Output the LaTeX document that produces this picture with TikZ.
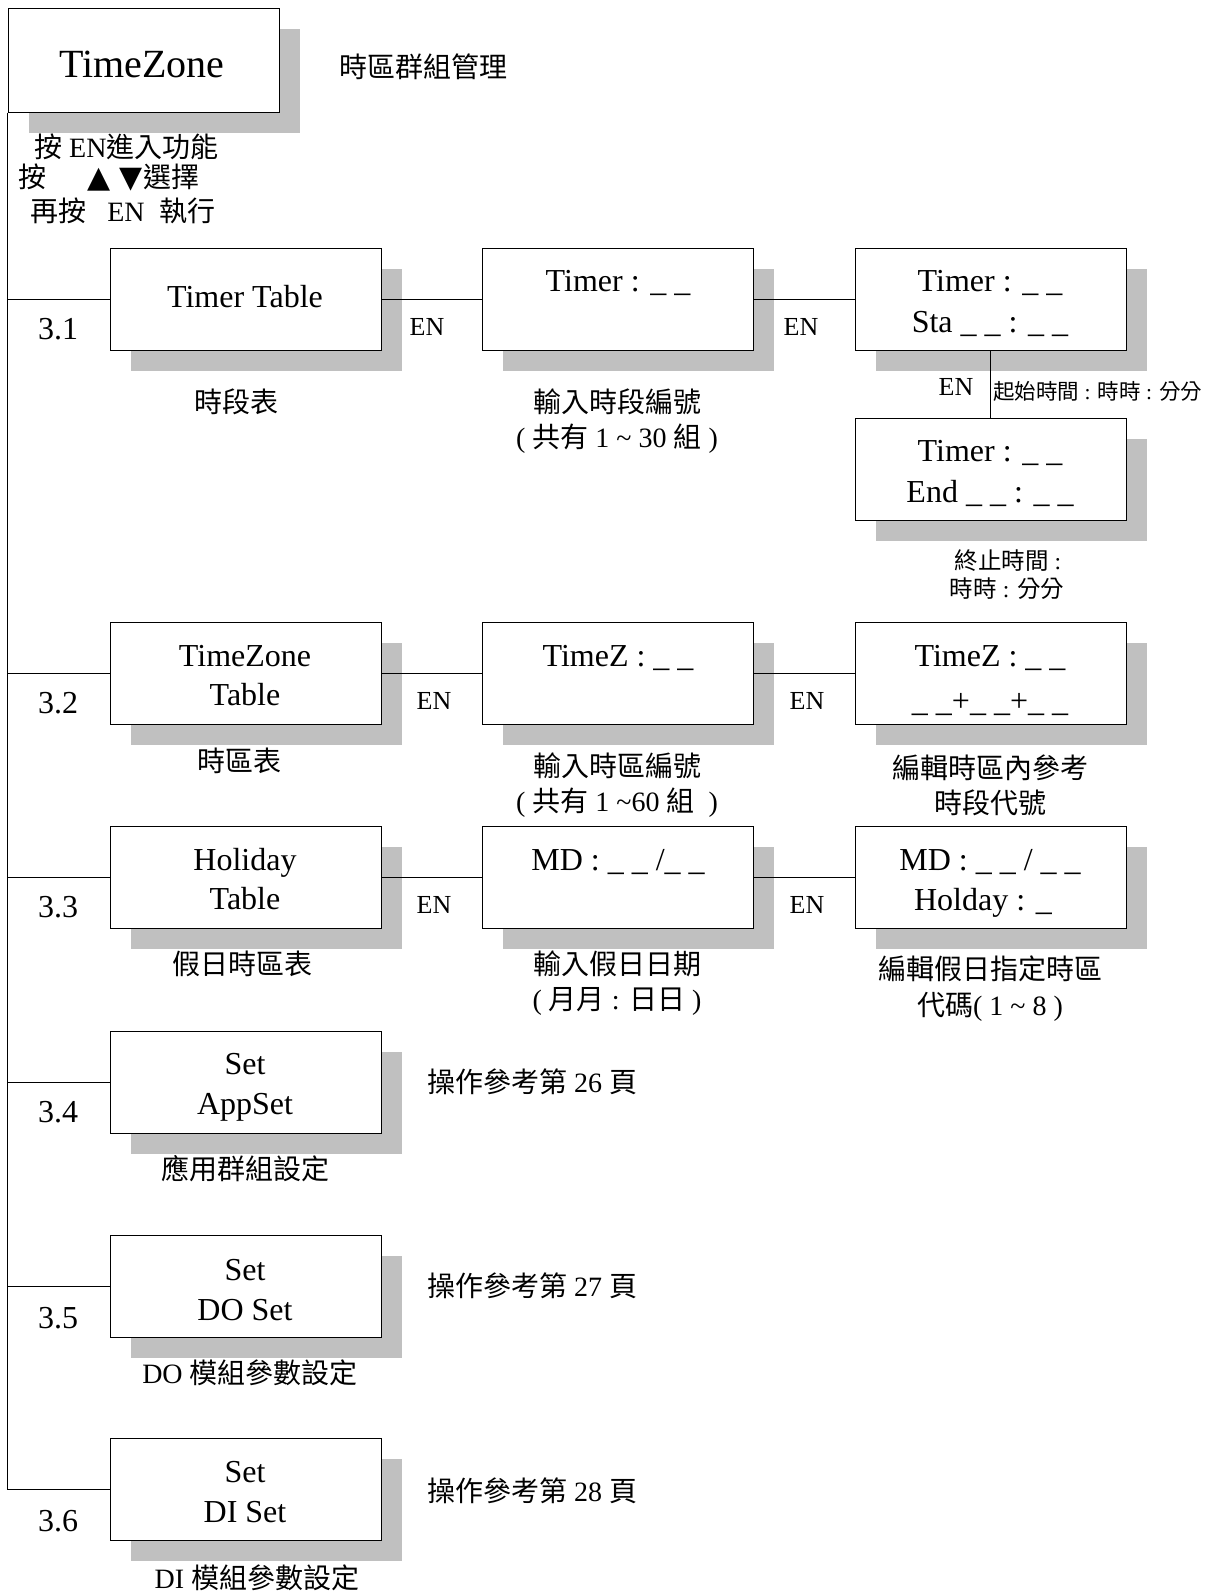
\documentclass[tikz,border=0pt]{standalone}
\usepackage{fontspec}
\setmainfont{Liberation Serif}
\newfontfamily\cjkfont{Noto Sans CJK TC}
\newfontfamily\symfont{DejaVu Sans}
\newcommand{\ZH}[1]{{\cjkfont #1}}
\usetikzlibrary{shadows}
\definecolor{shadowgray}{RGB}{192,192,192}
\begin{document}
\begin{tikzpicture}[x=1pt,y=-1pt,
  box/.style={draw, line width=1pt, fill=white, minimum width=271pt, minimum height=102pt, inner sep=0pt,
    general shadow={fill=shadowgray, shadow xshift=20.5pt, shadow yshift=-21pt}},
  ln/.style={line width=0.9pt},
  bt/.style={font=\fontsize{32}{36}\selectfont, inner sep=0pt, text height=22pt, text depth=0pt},
  ttl/.style={font=\fontsize{40}{44}\selectfont, inner sep=0pt, text height=27pt, text depth=0pt},
  en/.style={font=\fontsize{26}{30}\selectfont, inner sep=0pt, text height=18pt, text depth=0pt},
  lb/.style={font=\fontsize{28}{32}\selectfont, inner sep=0pt, text height=20pt, text depth=0pt},
  sm/.style={font=\fontsize{21.5}{26}\selectfont, inner sep=0pt, text height=16pt, text depth=0pt},
  smb/.style={font=\fontsize{23.5}{27}\selectfont, inner sep=0pt, text height=17pt, text depth=0pt},
  tri/.style={font=\symfont\fontsize{30}{34}\selectfont, inner sep=0pt, text height=20pt, text depth=0pt}]
\useasboundingbox (0,0) rectangle (1214,1591);
% main box
\node[box, minimum height=104pt] (tz) at (143.5,60) {};
\node[ttl] (tzt) at (142,64) {TimeZone};
\node[lb] (tzl) at (423,67) {\ZH{時區群組管理}};
% header instructions
\node[lb, anchor=west] (h1) at (34,147) {\ZH{按} EN\ZH{進入功能}};
\node[lb, anchor=west] (h2a) at (18,177) {\ZH{按}};
\node[tri] (h2b) at (99,177) {▲};
\node[tri] (h2c) at (131,177) {▼};
\node[lb, anchor=west] (h2d) at (143,177) {\ZH{選擇}};
\node[lb, anchor=west] (h3a) at (30,211) {\ZH{再按}};
\node[lb] (h3b) at (126,211) {EN};
\node[lb, anchor=west] (h3c) at (159,211) {\ZH{執行}};
% boxes
\node[box] (b31) at (245.5,299) {};
\node[box] (m31) at (618,299) {};
\node[box] (r31) at (990.5,299) {};
\node[box] (r31b) at (990.5,469) {};
\node[box] (b32) at (245.5,673) {};
\node[box] (m32) at (618,673) {};
\node[box] (r32) at (990.5,673) {};
\node[box] (b33) at (245.5,877) {};
\node[box] (m33) at (618,877) {};
\node[box] (r33) at (990.5,877) {};
\node[box] (b34) at (245.5,1082) {};
\node[box] (b35) at (245.5,1286) {};
\node[box] (b36) at (245.5,1489) {};
% trunk and branches
\draw[ln] (tz.south west) |- (b36.west);
\foreach \n in {b31,b32,b33,b34,b35}{\draw[ln] (tz.south west |- \n.west) -- (\n.west);}
\draw[ln] (b31.east) -- (m31.west);
\draw[ln] (m31.east) -- (r31.west);
\draw[ln] (r31.south) -- (r31b.north);
\draw[ln] (b32.east) -- (m32.west);
\draw[ln] (m32.east) -- (r32.west);
\draw[ln] (b33.east) -- (m33.west);
\draw[ln] (m33.east) -- (r33.west);
% row 3.1
\node[bt] (n31) at (58,328) {3.1};
\node[bt] (b31t) at (245,296) {Timer Table};
\node[en] (e31a) at (427,326) {EN};
\node[lb] (l31) at (236,402) {\ZH{時段表}};
\node[bt] (m31t) at (618,280) {Timer : \_ \_};
\node[lb] (l31m1) at (617,402) {\ZH{輸入時段編號}};
\node[lb] (l31m2) at (617,437) {( \ZH{共有} 1 \textasciitilde{} 30 \ZH{組} )};
\node[en] (e31b) at (801,326) {EN};
\node[bt] (r31t1) at (990,280) {Timer : \_ \_};
\node[bt] (r31t2) at (990,321) {Sta \_ \_ : \_ \_};
\node[en] (e31c) at (956,386) {EN};
\node[sm, anchor=west] (l31s) at (993,391) {\ZH{起始時間} : \ZH{時時} : \ZH{分分}};
\node[bt] (r31bt1) at (990,450) {Timer : \_ \_};
\node[bt] (r31bt2) at (990,491) {End \_ \_ : \_ \_};
\node[smb] (l31e1) at (1008,561) {\ZH{終止時間} :};
\node[smb] (l31e2) at (1007,589) {\ZH{時時} : \ZH{分分}};
% row 3.2
\node[bt] (n32) at (58,702) {3.2};
\node[bt] (b32t1) at (245,655) {TimeZone};
\node[bt] (b32t2) at (245,694) {Table};
\node[en] (e32a) at (434,700) {EN};
\node[lb] (l32) at (239,761) {\ZH{時區表}};
\node[bt] (m32t) at (618,655) {TimeZ : \_ \_};
\node[lb] (l32m1) at (617,766) {\ZH{輸入時區編號}};
\node[lb] (l32m2) at (617,801) {( \ZH{共有} 1 \textasciitilde60 \ZH{組}\ \ )};
\node[en] (e32b) at (807,700) {EN};
\node[bt] (r32t1) at (990,655) {TimeZ : \_ \_};
\node[bt] (r32t2) at (990,700) {\_ \_+\_ \_+\_ \_};
\node[lb] (l32r1) at (990,768) {\ZH{編輯時區內參考}};
\node[lb] (l32r2) at (990,803) {\ZH{時段代號}};
% row 3.3
\node[bt] (n33) at (58,906) {3.3};
\node[bt] (b33t1) at (245,859) {Holiday};
\node[bt] (b33t2) at (245,898) {Table};
\node[en] (e33a) at (434,904) {EN};
\node[lb] (l33) at (242,964) {\ZH{假日時區表}};
\node[bt] (m33t) at (618,859) {MD : \_ \_ /\_ \_};
\node[lb] (l33m1) at (617,964) {\ZH{輸入假日日期}};
\node[lb] (l33m2) at (617,999) {( \ZH{月月} : \ZH{日日} )};
\node[en] (e33b) at (807,904) {EN};
\node[bt] (r33t1) at (990,859) {MD : \_ \_ / \_ \_};
\node[bt] (r33t2) at (983,899) {Holday : \_};
\node[lb] (l33r1) at (990,969) {\ZH{編輯假日指定時區}};
\node[lb] (l33r2) at (990,1005) {\ZH{代碼}( 1 \textasciitilde{} 8 )};
% row 3.4
\node[bt] (n34) at (58,1111) {3.4};
\node[bt] (b34t1) at (245,1063) {Set};
\node[bt] (b34t2) at (245,1103) {AppSet};
\node[lb] (p34) at (532,1082) {\ZH{操作參考第} 26 \ZH{頁}};
\node[lb] (l34) at (245,1169) {\ZH{應用群組設定}};
% row 3.5
\node[bt] (n35) at (58,1317) {3.5};
\node[bt] (b35t1) at (245,1269) {Set};
\node[bt] (b35t2) at (245,1309) {DO Set};
\node[lb] (p35) at (532,1286) {\ZH{操作參考第} 27 \ZH{頁}};
\node[lb] (l35) at (250,1373) {DO \ZH{模組參數設定}};
% row 3.6
\node[bt] (n36) at (58,1520) {3.6};
\node[bt] (b36t1) at (245,1471) {Set};
\node[bt] (b36t2) at (245,1511) {DI Set};
\node[lb] (p36) at (532,1491) {\ZH{操作參考第} 28 \ZH{頁}};
\node[lb] (l36) at (257,1578) {DI \ZH{模組參數設定}};
\end{tikzpicture}
\end{document}
